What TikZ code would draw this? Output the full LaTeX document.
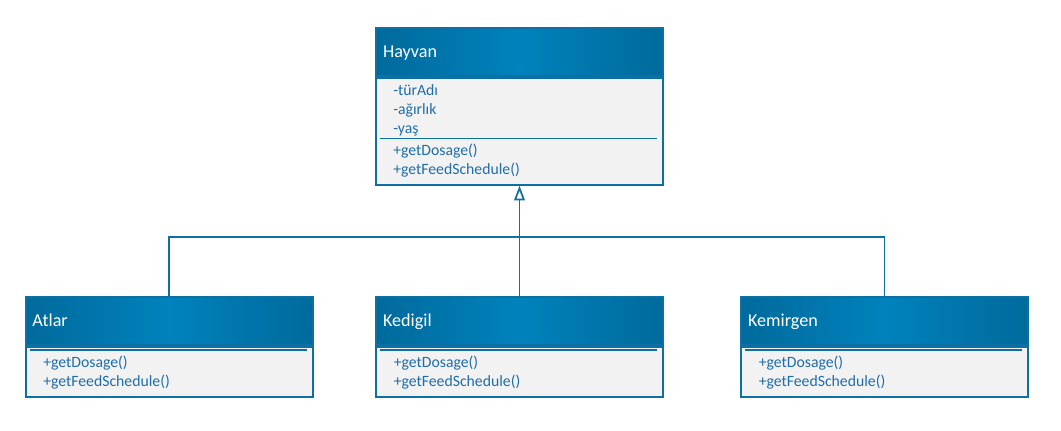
\documentclass[tikz,border=0pt]{standalone}
\usepackage{fontspec}
\setmainfont{Carlito}
\usepackage{tikz}
\usetikzlibrary{arrows.meta, positioning}

\definecolor{umlblue}{HTML}{0E6FA3}
\definecolor{headlight}{HTML}{0082BC}
\definecolor{headdark}{HTML}{006A9C}
\definecolor{bodygray}{HTML}{F2F2F2}
\definecolor{umltext}{HTML}{1F6DAA}

\tikzset{
  classhead/.style={draw=umlblue, line width=1.5pt, left color=headdark, right color=headdark,
    middle color=headlight, text=white, font=\fontsize{13.6}{16}\selectfont, anchor=north west,
    minimum width=215.25pt, minimum height=36pt, text width=204.75pt, inner xsep=5.25pt,
    inner ysep=0pt, text height=9pt, text depth=0pt, align=left},
  classbody/.style={draw=umlblue, line width=1.5pt, fill=bodygray, minimum width=215.25pt,
    anchor=north, inner sep=0pt},
  member/.style={text=umltext, font=\fontsize{11.8}{14}\selectfont, anchor=base west, inner sep=0pt},
  divider/.style={draw=umlblue, line width=0.8pt},
  inherit/.style={draw=umlblue, line width=0.8pt}
}

\begin{document}
\begin{tikzpicture}[x=0.75pt, y=-0.75pt, >=Stealth]
        \useasboundingbox (0,0) rectangle (1061,430);

        % ana sinif
        \node[classhead] (hayvan) at (375,26.7) {Hayvan};
        \node[classbody, minimum height=80.25pt] (hayvanbody) at (hayvan.south) {};
        \foreach \m/\l/\y in {a1/{-türAdı}/95, a2/{-ağırlık}/114, a3/{-yaş}/133,
                              m1/{+getDosage()}/155, m2/{+getFeedSchedule()}/174} {
            \node[member] (hayvan-\m) at (393,\y) {\l};
        }
        \draw[divider] (380,138.3) -- (657,138.3);

        % alt siniflar
        \foreach \name/\title/\x in {atlar/Atlar/24.5, kedigil/Kedigil/375, kemirgen/Kemirgen/740} {
            \node[classhead] (\name) at (\x,295.7) {\title};
            \node[classbody, minimum height=38pt] (\name body) at (\name.south) {};
            \draw[divider] (\x+5,350) -- (\x+282,350);
            \node[member] (\name-m1) at (\x+18.5,367.5) {+getDosage()};
            \node[member] (\name-m2) at (\x+18.5,386) {+getFeedSchedule()};
        }

        % kalitim baglantilari
        \coordinate (branch) at (518.5,237);
        \draw[inherit] (atlar.north) |- (branch) -| (kemirgen.north);
        \draw[inherit, -{Triangle[open, length=11pt, width=8pt, line width=1.3pt]}] (kedigil.north) -- (hayvanbody.south);
    \end{tikzpicture}
\end{document}
